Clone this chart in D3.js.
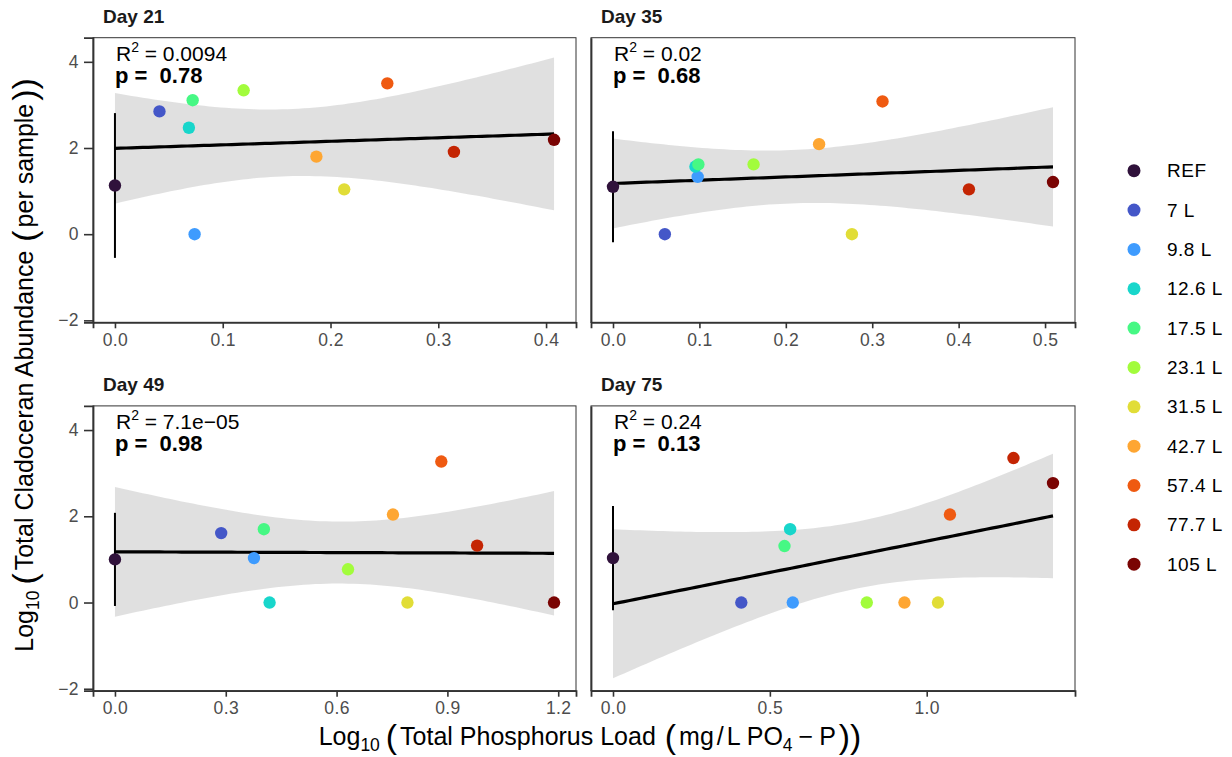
<!DOCTYPE html>
<html>
<head>
<meta charset="utf-8">
<script src="https://cdn.jsdelivr.net/npm/d3@7"></script>
<style>
  body { margin: 0; background: #fff; }
  svg text { font-family: "Liberation Sans", Arial, Helvetica, sans-serif; }
</style>
</head>
<body>
<div id="wrapper"></div>
<script>
// treatment groups and their colours (turbo palette)
const groups = ["REF", "7 L", "9.8 L", "12.6 L", "17.5 L", "23.1 L", "31.5 L", "42.7 L", "57.4 L", "77.7 L", "105 L"]
const groupColors = ["#30123B", "#4457C8", "#3E9BFE", "#18D6CB", "#46F884", "#A2FC3C", "#E1DD37", "#FEA632", "#EF5A11", "#C42503", "#7A0403"]

const days = ["Day 21", "Day 35", "Day 49", "Day 75"]

// log10 phosphorus load (x) and log10 cladoceran abundance (y), one value per group
const phosDay21 = [0, 0.0413, 0.0739, 0.0686, 0.0721, 0.1194, 0.2127, 0.1869, 0.2527, 0.3145, 0.4074]
const abundDay21 = [1.13, 2.85, 0, 2.47, 3.11, 3.34, 1.04, 1.80, 3.50, 1.91, 2.19]
const phosDay35 = [0, 0.060, 0.098, 0.0954, 0.0988, 0.1627, 0.2765, 0.2385, 0.3119, 0.4119, 0.5092]
const abundDay35 = [1.10, 0, 1.33, 1.57, 1.62, 1.62, 0, 2.09, 3.08, 1.04, 1.21]
const phosDay49 = [0, 0.2876, 0.3763, 0.4186, 0.4031, 0.6309, 0.7918, 0.7526, 0.8835, 0.9804, 1.1887]
const abundDay49 = [1.00, 1.61, 1.03, 0, 1.70, 0.77, 0, 2.04, 3.27, 1.32, 0]
const phosDay75 = [0, 0.409, 0.573, 0.5646, 0.5466, 0.809, 1.036, 0.929, 1.074, 1.2765, 1.4025]
const abundDay75 = [1.03, 0, 0, 1.70, 1.31, 0, 0, 0, 2.04, 3.35, 2.77]

// spread of the REF replicates (half length of the error bar)
const refSpread = [1.68, 1.29, 1.08, 1.21]

// fit statistics as printed
const r2Labels = ["0.0094", "0.02", "7.1e\u221205", "0.24"]
const pLabels = ["0.78", "0.68", "0.98", "0.13"]

// axis ticks
const xTicksDay21 = [0, 0.1, 0.2, 0.3, 0.4]
const xTicksDay35 = [0, 0.1, 0.2, 0.3, 0.4, 0.5]
const xTicksDay49 = [0, 0.3, 0.6, 0.9, 1.2]
const xTicksDay75 = [0, 0.5, 1.0]
const yTicks = [-2, 0, 2, 4]
const yDomain = [-2.045, 4.56]

const panels = [
  { x: phosDay21, y: abundDay21, ticks: xTicksDay21 },
  { x: phosDay35, y: abundDay35, ticks: xTicksDay35 },
  { x: phosDay49, y: abundDay49, ticks: xTicksDay49 },
  { x: phosDay75, y: abundDay75, ticks: xTicksDay75 },
]

// layout
const width = 1232
const height = 757
const cols = [[93, 576], [591, 1075]]
const rows = [[37.7, 322.3], [405.9, 690.7]]
const tCrit = 2.262 // t(0.975, df = 9) for 11 points

const svg = d3.select("#wrapper")
  .append("svg")
    .attr("width", width)
    .attr("height", height)

const colorScale = d3.scaleOrdinal().domain(groups).range(groupColors)
const fmt = d3.format(".1f")

// ordinary least squares, like geom_smooth(method = "lm")
function fitLine(xs, ys) {
  const n = xs.length
  const xbar = d3.mean(xs)
  const ybar = d3.mean(ys)
  const sxx = d3.sum(xs, x => (x - xbar) ** 2)
  const sxy = d3.sum(xs, (x, i) => (x - xbar) * (ys[i] - ybar))
  const slope = sxy / sxx
  const intercept = ybar - slope * xbar
  const sse = d3.sum(xs, (x, i) => (ys[i] - intercept - slope * x) ** 2)
  const s = Math.sqrt(sse / (n - 2))
  return { n, xbar, sxx, slope, intercept, s }
}

function styleAxis(ax) {
  ax.select(".domain").attr("stroke", "#333").attr("stroke-width", 1.8)
  ax.selectAll(".tick line").attr("stroke", "#333").attr("stroke-width", 1.6)
  ax.selectAll(".tick text")
    .attr("fill", "#4d4d4d")
    .attr("font-size", 17.5)
    .attr("letter-spacing", 0.4)
    .attr("font-family", "Liberation Sans, Arial, sans-serif")
}

panels.forEach((p, i) => {
  const [x0, x1] = cols[i % 2]
  const [y0, y1] = rows[Math.floor(i / 2)]
  const g = svg.append("g")

  const ext = d3.extent(p.x)
  const pad = (ext[1] - ext[0]) * 0.05
  const xScale = d3.scaleLinear().domain([ext[0] - pad, ext[1] + pad]).range([x0, x1])
  const yScale = d3.scaleLinear().domain(yDomain).range([y1, y0])

  // strip title
  g.append("text")
    .attr("x", x0 + 10)
    .attr("y", y0 - 14.5)
    .attr("font-size", 19)
    .attr("font-weight", "bold")
    .attr("fill", "#1a1a1a")
    .text(days[i])

  // panel border
  g.append("rect")
    .attr("x", x0).attr("y", y0)
    .attr("width", x1 - x0).attr("height", y1 - y0)
    .attr("fill", "none")
    .attr("stroke", "#333")
    .attr("stroke-width", 1)

  // regression band + line
  const fit = fitLine(p.x, p.y)
  const grid = d3.range(80).map(k => ext[0] + (ext[1] - ext[0]) * k / 79)
  const bandData = grid.map(x => {
    const yhat = fit.intercept + fit.slope * x
    const se = fit.s * Math.sqrt(1 / fit.n + (x - fit.xbar) ** 2 / fit.sxx)
    return { x, yhat, lo: yhat - tCrit * se, hi: yhat + tCrit * se }
  })
  g.append("path")
    .datum(bandData)
    .attr("fill", "#999999")
    .attr("fill-opacity", 0.3)
    .attr("d", d3.area()
      .x(d => xScale(d.x))
      .y0(d => yScale(d.lo))
      .y1(d => yScale(d.hi)))
  g.append("path")
    .datum(bandData)
    .attr("fill", "none")
    .attr("stroke", "#000")
    .attr("stroke-width", 3.2)
    .attr("d", d3.line().x(d => xScale(d.x)).y(d => yScale(d.yhat)))

  // REF error bar
  g.append("line")
    .attr("x1", xScale(p.x[0])).attr("x2", xScale(p.x[0]))
    .attr("y1", yScale(p.y[0] - refSpread[i]))
    .attr("y2", yScale(p.y[0] + refSpread[i]))
    .attr("stroke", "#000")
    .attr("stroke-width", 2)

  // points
  g.selectAll("circle.pt")
    .data(groups)
    .join("circle")
      .attr("class", "pt")
      .attr("cx", (d, k) => xScale(p.x[k]))
      .attr("cy", (d, k) => yScale(p.y[k]))
      .attr("r", 6.2)
      .attr("fill", d => colorScale(d))

  // fit labels
  const r2 = g.append("text")
    .attr("x", xScale(0) + 1)
    .attr("y", y0 + 23)
    .attr("font-size", 21)
    .attr("fill", "#000")
  r2.append("tspan").text("R")
  r2.append("tspan").attr("dy", -9).attr("font-size", 14).text("2")
  r2.append("tspan").attr("dy", 9).text(" = " + r2Labels[i])

  g.append("text")
    .attr("x", xScale(0))
    .attr("y", y0 + 45.5)
    .attr("font-size", 22)
    .attr("font-weight", "bold")
    .attr("fill", "#000")
    .attr("xml:space", "preserve")
    .text("p =  " + pLabels[i])

  // x axis
  const xAxis = g.append("g")
    .attr("transform", `translate(0,${y1})`)
    .call(d3.axisBottom(xScale).tickValues(p.ticks).tickFormat(fmt).tickSize(6).tickPadding(5))
  styleAxis(xAxis)

  // y axis (labels on the left column only)
  const yAxisGen = d3.axisLeft(yScale).tickValues(yTicks).tickSize(i % 2 === 0 ? 9 : 0).tickPadding(5)
    .tickFormat(d => i % 2 === 0 ? String(d).replace("-", "\u2212") : "")
  const yAxis = g.append("g")
    .attr("transform", `translate(${x0},0)`)
    .call(yAxisGen)
  styleAxis(yAxis)
})

// plotmath-like title: subscripts, enlarged parentheses and a little extra spacing
function richText(sel, parts, size) {
  let offset = 0
  parts.forEach(part => {
    const t = sel.append("tspan").text(part.t)
    let want = 0
    if (part.sub) { t.attr("font-size", size * 0.7); want = size * 0.24 }
    if (part.big) { t.attr("font-size", size * 1.35); want = size * 0.11 }
    if (want - offset !== 0) t.attr("dy", want - offset)
    if (part.dx) t.attr("dx", part.dx)
    offset = want
  })
}

const xTitle = svg.append("text")
  .attr("x", 590)
  .attr("y", 745)
  .attr("text-anchor", "middle")
  .attr("font-size", 25)
  .attr("fill", "#000")
  .attr("xml:space", "preserve")
richText(xTitle, [
  { t: "Log" }, { t: "10", sub: true }, { t: "(", big: true, dx: 6 },
  { t: "Total Phosphorus Load", dx: 3 }, { t: "(", big: true, dx: 9 },
  { t: "mg", dx: 3 }, { t: "/", dx: 3 }, { t: "L PO", dx: 3 }, { t: "4", sub: true },
  { t: "\u2212", dx: 6 }, { t: "P", dx: 6 }, { t: "))", big: true, dx: 3 },
], 25)

const yTitle = svg.append("text")
  .attr("transform", "translate(33,365) rotate(-90)")
  .attr("text-anchor", "middle")
  .attr("font-size", 25)
  .attr("fill", "#000")
  .attr("xml:space", "preserve")
richText(yTitle, [
  { t: "Log" }, { t: "10", sub: true }, { t: "(", big: true, dx: 6 },
  { t: "Total Cladoceran Abundance", dx: 3 }, { t: "(", big: true, dx: 9 },
  { t: "per sample", dx: 3 }, { t: "))", big: true, dx: 3 },
], 25)

// legend
const legend = svg.append("g")
legend.selectAll("circle")
  .data(groups)
  .join("circle")
    .attr("cx", 1134)
    .attr("cy", (d, k) => 170.7 + k * 39.35)
    .attr("r", 6.5)
    .attr("fill", d => colorScale(d))
legend.selectAll("text")
  .data(groups)
  .join("text")
    .attr("x", 1167)
    .attr("y", (d, k) => 170.7 + k * 39.35 + 6.5)
    .attr("font-size", 19)
    .attr("letter-spacing", 0.5)
    .attr("fill", "#000")
    .text(d => d)
</script>
</body>
</html>
